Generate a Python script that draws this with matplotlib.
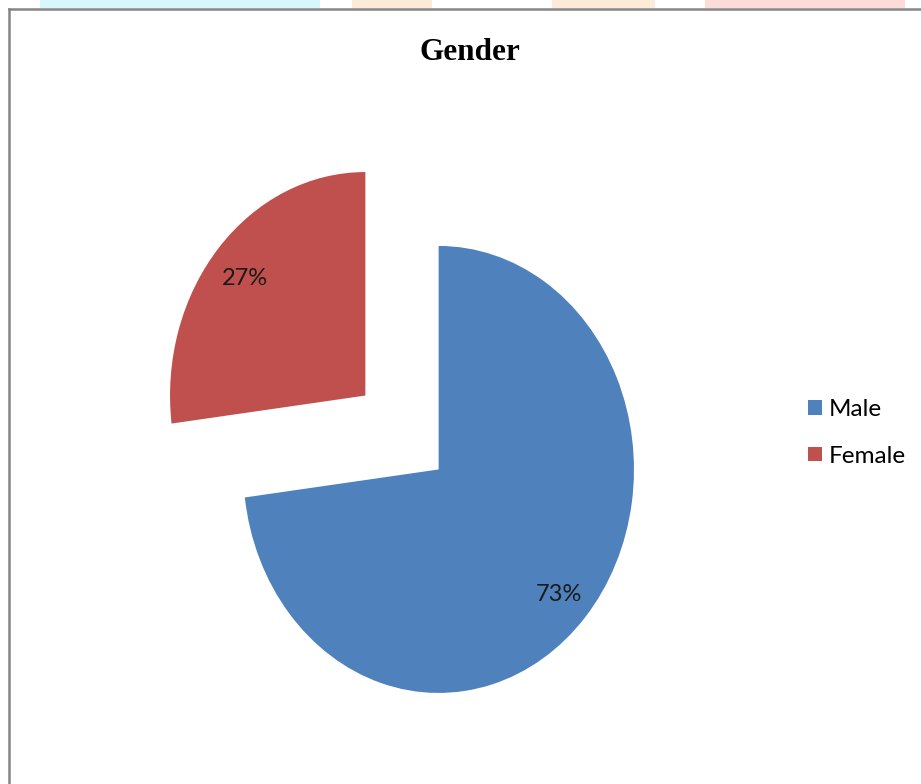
import matplotlib.pyplot as plt
from matplotlib.patches import Rectangle
from matplotlib.lines import Line2D

labels = ["Male", "Female"]
sizes = [73, 27]
colors = ["#4F81BD", "#C0504D"]
explode_frac = [0.25, 0.25]

W, H = 921, 784
sx = 0.874  # the reference picture is squeezed sideways

fig = plt.figure(figsize=(W / 100, H / 100), dpi=100)
fig.patch.set_facecolor("white")

# faint bands along the top edge (from the page behind the chart)
for x0, x1, c in [(40, 320, "#D8F7FA"), (352, 432, "#FDEBDA"),
                  (552, 655, "#FDEBDA"), (705, 905, "#FCDCD8")]:
    fig.patches.append(Rectangle((x0 / W, 1 - 8 / H), (x1 - x0) / W, 8 / H,
                                 transform=fig.transFigure, color=c, lw=0))

# chart frame (left and top edges visible)
fig.lines.append(Line2D([8.5 / W, 8.5 / W], [0, 1 - 8.5 / H], transform=fig.transFigure,
                        color="#858585", lw=1.8))
fig.lines.append(Line2D([8.5 / W, 1], [1 - 8.5 / H, 1 - 8.5 / H], transform=fig.transFigure,
                        color="#858585", lw=1.8))

ax = fig.add_axes([0, 0, 1, 1])
cx, cy, r = 402 / sx, H - 432.5, 223.5
# matplotlib takes explode in data units, so scale by the radius
wedges, texts, autotexts = ax.pie(
    sizes, explode=[e * r for e in explode_frac], colors=colors, startangle=90,
    counterclock=False, center=(cx, cy), radius=r, autopct="%1.0f%%", pctdistance=0.82,
    wedgeprops=dict(linewidth=0),
    textprops=dict(family="Lato", fontsize=17, color="#1a1a1a"))
for t in autotexts:
    t.set_y(t.get_position()[1] - 4)
ax.set_aspect("auto")
ax.set_xlim(0, W / sx)
ax.set_ylim(0, H)
ax.axis("off")

fig.text(470 / W, 1 - 52 / H, "Gender", ha="center", va="center",
         family="Liberation Serif", fontweight="bold", fontsize=22.5)

leg = fig.legend(wedges, labels, loc="center left", bbox_to_anchor=(796 / W, 1 - 433 / H),
                 frameon=False, prop=dict(family="Lato", size=17.5),
                 handlelength=0.55, handleheight=0.55, handletextpad=0.3,
                 labelspacing=1.05, borderpad=0)

fig.savefig("out.png", dpi=100)
